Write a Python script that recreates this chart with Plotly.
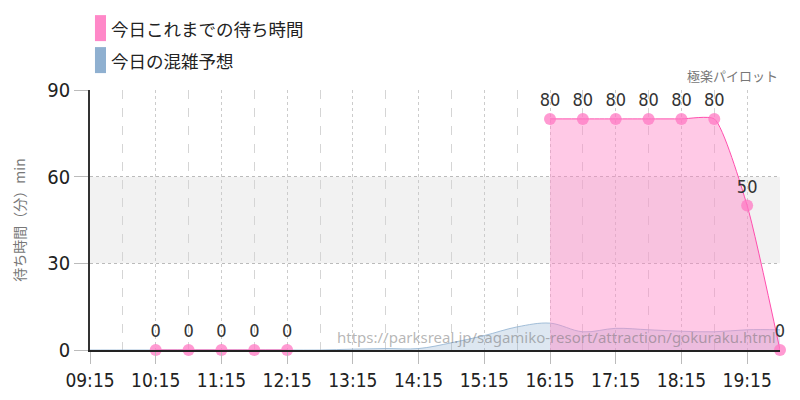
import plotly.graph_objects as go

# 30 minute slots for the day
times = ["09:15", "09:45", "10:15", "10:45", "11:15", "11:45", "12:15", "12:45",
         "13:15", "13:45", "14:15", "14:45", "15:15", "15:45", "16:15", "16:45",
         "17:15", "17:45", "18:15", "18:45", "19:15", "19:45"]

# today's actual wait (None = no data)
wait_today = [None, None, 0, 0, 0, 0, 0, None,
              None, None, None, None, None, None, 80, 80,
              80, 80, 80, 80, 50, 0]

# forecast crowd level
forecast = [0, 0, 0, 0, 0, 0, 0, 0,
            0.3, 0.5, 0.5, 2.5, 5, 8, 9.3, 6.3,
            7.5, 7, 6.5, 6.3, 7, 7]

y_ticks = [0, 30, 60, 90]

day = "2024-01-01 "
x = [day + t for t in times]

num_font = "DejaVu Sans Condensed, Liberation Sans Narrow, Roboto, sans-serif"
jp_font = "Noto Sans CJK JP, Noto Sans, sans-serif"

fig = go.Figure()

fig.add_trace(go.Scatter(
    x=x, y=forecast,
    mode="lines",
    line=dict(color="rgba(143,176,208,0.8)", width=1, shape="spline"),
    fill="tozeroy",
    fillcolor="rgba(143,176,208,0.3)",
    name="今日の混雑予想",
    hoverinfo="skip",
))

# split the wait series into runs without gaps so the fill doesn't bridge them
segments = []
cur = []
for t, v in zip(x, wait_today):
    if v is None:
        if cur:
            segments.append(cur)
        cur = []
    else:
        cur.append((t, v))
if cur:
    segments.append(cur)

for seg in segments:
    sx = [p[0] for p in seg]
    sy = [p[1] for p in seg]
    fig.add_trace(go.Scatter(
        x=sx, y=sy,
        mode="lines+markers+text",
        line=dict(color="#ff4fae", width=1, shape="spline", smoothing=0.55),
        marker=dict(size=12, color="rgba(255,120,195,0.75)"),
        fill="tozeroy",
        fillcolor="rgba(255,136,200,0.45)",
        text=[str(v) for v in sy],
        textposition="top center",
        textfont=dict(family=num_font, size=18, color="#333"),
        cliponaxis=False,
        name="今日これまでの待ち時間",
    ))

# gray band 30-60
fig.add_shape(type="rect", xref="paper", x0=0, x1=1, yref="y", y0=30, y1=60,
              fillcolor="#f2f2f2", line=dict(width=0), layer="below")

# legend drawn by hand
legend_items = [("今日これまでの待ち時間", "#ff88c8", 1.288, 1.188),
                ("今日の混雑予想", "#8fb0d0", 1.165, 1.065)]
for name, col, top, bot in legend_items:
    fig.add_shape(type="rect", xref="paper", yref="paper",
                  x0=0.0072, x1=0.0232, y0=bot, y1=top,
                  fillcolor=col, line=dict(width=0))
    fig.add_annotation(xref="paper", yref="paper", x=0.027, y=(top + bot) / 2,
                       text=name, showarrow=False, xanchor="left", yanchor="middle",
                       font=dict(family=jp_font, size=17.5, color="#222"))

fig.add_annotation(xref="paper", yref="paper", x=1, y=1.01, text="極楽パイロット",
                   showarrow=False, xanchor="right", yanchor="bottom",
                   font=dict(family=jp_font, size=13, color="#777"))

fig.add_annotation(xref="paper", yref="paper", x=0.997, y=0.05,
                   text="https://parksreal.jp/sagamiko-resort/attraction/gokuraku.html",
                   showarrow=False, xanchor="right", yanchor="middle",
                   font=dict(family="Noto Sans, sans-serif", size=15,
                             color="rgba(110,110,110,0.5)"))

fig.update_layout(
    width=800, height=400,
    margin=dict(l=90, r=20, t=90, b=50),
    plot_bgcolor="white", paper_bgcolor="white",
    showlegend=False,
)

fig.update_xaxes(
    type="date",
    range=[x[0], x[-1]],
    tick0=x[0], dtick=3600000,
    tickformat="%H:%M",
    ticks="outside", ticklen=12, tickcolor="#bbb",
    tickfont=dict(family=num_font, size=19, color="#222"),
    showgrid=True, gridcolor="#ccc", griddash="dot", gridwidth=1,
    minor=dict(tick0=x[0], dtick=1800000, showgrid=True,
               gridcolor="#d5d5d5", griddash="dash"),
    showline=True, linecolor="#222", linewidth=1.5,
    zeroline=False,
    automargin=False,
)

fig.update_yaxes(
    range=[0, 90],
    tickvals=y_ticks,
    ticks="outside", ticklen=14, tickcolor="#bbb",
    tickfont=dict(family=num_font, size=20, color="#222"),
    showgrid=True, gridcolor="#bbb", griddash="dot",
    showline=True, linecolor="#333", linewidth=1.5,
    zeroline=False,
    automargin=False,
    title=dict(text="待ち時間（分）min", standoff=18,
               font=dict(family=jp_font, size=14, color="#777")),
)

fig.write_html("out.html", config={"displayModeBar": False},
               post_script="document.body.style.margin='0';")
